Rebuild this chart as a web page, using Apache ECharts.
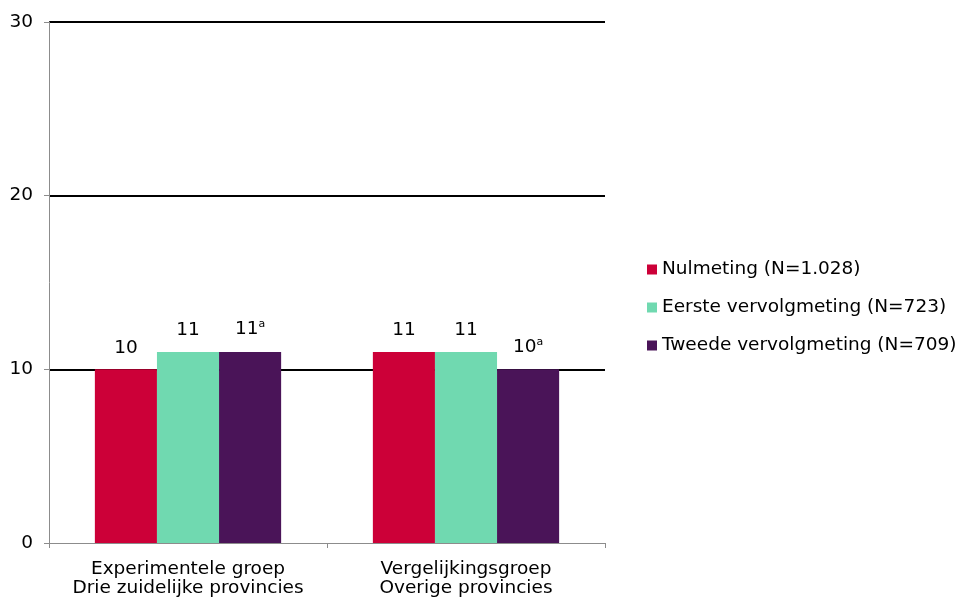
<!DOCTYPE html>
<html>
<head>
<meta charset="utf-8">
<script src="https://cdn.jsdelivr.net/npm/echarts@6/dist/echarts.min.js"></script>
<style>
  html, body { margin: 0; padding: 0; background: #fff; }
  #chart { width: 962px; height: 599px; }
</style>
</head>
<body>
<div id="chart"></div>
<script>
const categories = ['Experimentele groep\nDrie zuidelijke provincies', 'Vergelijkingsgroep\nOverige provincies'];
const seriesNames = ['Nulmeting (N=1.028)', 'Eerste vervolgmeting (N=723)', 'Tweede vervolgmeting (N=709)'];
const nulmeting = [10, 11];
const eersteVervolg = [11, 11];
const tweedeVervolg = [11, 10];
const tweedeNote = ['a', 'a'];
const yTicks = [0, 10, 20, 30];

const colors = ['#cc0038', '#70d9b0', '#4a1458'];
const font = 'DejaVu Sans, Verdana, sans-serif';
const textColor = '#000';
const fontSize = 18.5;

const chart = echarts.init(document.getElementById('chart'));

function labelFor(notes) {
  return {
    show: true,
    position: 'top',
    distance: 12,
    color: textColor,
    fontFamily: font,
    fontSize: fontSize,
    formatter: p => notes && notes[p.dataIndex] ? p.value + '{sup|' + notes[p.dataIndex] + '}' : String(p.value),
    rich: {
      sup: { fontSize: 11, fontFamily: font, color: textColor, verticalAlign: 'top', padding: [0, 0, 10, 0] }
    }
  };
}

const seriesData = [nulmeting, eersteVervolg, tweedeVervolg];
const notes = [null, null, tweedeNote];

chart.setOption({
  animation: false,
  color: colors,
  grid: { left: 49, right: 357, top: 22, bottom: 56 },
  legend: {
    orient: 'vertical',
    left: 642,
    top: 255,
    itemWidth: 10,
    itemHeight: 10,
    itemGap: 19,
    icon: 'rect',
    textStyle: { color: textColor, fontFamily: font, fontSize: fontSize },
    data: seriesNames
  },
  xAxis: {
    type: 'category',
    data: categories,
    z: 5,
    axisLine: { lineStyle: { color: '#8c8c8c', width: 1 } },
    axisTick: { show: true, length: 5, lineStyle: { color: '#8c8c8c' } },
    axisLabel: { color: textColor, fontFamily: font, fontSize: fontSize, lineHeight: 19, margin: 17, interval: 0 }
  },
  yAxis: {
    type: 'value',
    min: yTicks[0],
    max: yTicks[yTicks.length - 1],
    interval: 10,
    axisLine: { show: true, lineStyle: { color: '#8c8c8c', width: 1 } },
    axisTick: { show: true, length: 5, lineStyle: { color: '#8c8c8c' } },
    axisLabel: { color: textColor, fontFamily: font, fontSize: fontSize, margin: 16 },
    splitLine: { show: true, lineStyle: { color: ['rgba(0,0,0,0)', '#000', '#000', '#000'], width: 2 } }
  },
  series: seriesNames.map((name, i) => ({
    name: name,
    type: 'bar',
    data: seriesData[i],
    barGap: '0%',
    barCategoryGap: '33%',
    label: labelFor(notes[i]),
    z: 3
  }))
});
</script>
</body>
</html>
